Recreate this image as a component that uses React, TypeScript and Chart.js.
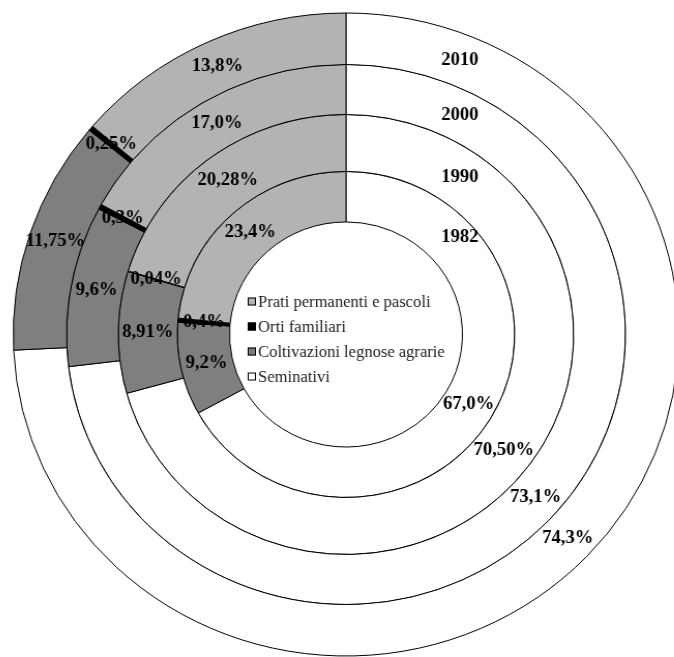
import { useEffect, useRef } from "react";
import { Chart, registerables } from "chart.js";

Chart.register(...registerables);

// ---- data ----
const years = ["2010", "2000", "1990", "1982"];
const categories = [
  "Seminativi",
  "Coltivazioni legnose agrarie",
  "Orti familiari",
  "Prati permanenti e pascoli",
];
const values2010 = [74.3, 11.75, 0.25, 13.8];
const values2000 = [73.1, 9.6, 0.3, 17.0];
const values1990 = [70.5, 8.91, 0.04, 20.28];
const values1982 = [67.0, 9.2, 0.4, 23.4];
const labels2010 = ["74,3%", "11,75%", "0,25%", "13,8%"];
const labels2000 = ["73,1%", "9,6%", "0,3%", "17,0%"];
const labels1990 = ["70,50%", "8,91%", "0,04%", "20,28%"];
const labels1982 = ["67,0%", "9,2%", "0,4%", "23,4%"];
const legendOrder = [3, 2, 1, 0];

// ---- style ----
const colors = ["#ffffff", "#7f7f7f", "#000000", "#b3b3b3"];
const ringWeights = [51.5, 50, 57, 50.5];
const yearShift = [0, 0, 0, 9];

const seriesValues = [values2010, values2000, values1990, values1982];
const seriesLabels = [labels2010, labels2000, labels1990, labels1982];

const labelPlugin = {
  id: "ringLabels",
  afterDatasetsDraw(chart: any) {
    const ctx = chart.ctx;
    ctx.save();
    ctx.fillStyle = "#000";
    ctx.textAlign = "center";
    ctx.textBaseline = "middle";
    ctx.font = "bold 18px 'Liberation Serif', 'DejaVu Serif', serif";
    chart.data.datasets.forEach((ds: any, di: number) => {
      const meta = chart.getDatasetMeta(di);
      meta.data.forEach((arc: any, i: number) => {
        const p = arc.getCenterPoint();
        ctx.fillText(ds.valueLabels[i], p.x, p.y);
      });
      const a0 = meta.data[0];
      const rmid = (a0.innerRadius + a0.outerRadius) / 2 + yearShift[di];
      const dx = 110;
      const dy = Math.sqrt(Math.max(rmid * rmid - dx * dx, 0));
      ctx.fillText(ds.label, a0.x + dx, a0.y - dy);
    });
    ctx.restore();
  },
  afterDraw(chart: any) {
    const ctx = chart.ctx;
    const a0 = chart.getDatasetMeta(0).data[0];
    const cx = a0.x;
    const cy = a0.y;
    ctx.save();
    ctx.font = "16px 'Liberation Serif', 'DejaVu Serif', serif";
    ctx.textAlign = "left";
    ctx.textBaseline = "middle";
    legendOrder.forEach((ci, row) => {
      const y = cy - 33 + row * 25;
      ctx.fillStyle = colors[ci];
      ctx.fillRect(cx - 95, y - 4, 8, 8);
      ctx.strokeStyle = "#000";
      ctx.lineWidth = 1;
      ctx.strokeRect(cx - 94.5, y - 3.5, 7, 7);
      ctx.fillStyle = "#222";
      ctx.fillText(categories[ci], cx - 85, y + 1);
    });
    ctx.restore();
  },
};

export default function App() {
  const ref = useRef<HTMLCanvasElement | null>(null);
  useEffect(() => {
    if (!ref.current) return;
    const chart = new Chart(ref.current, {
      type: "doughnut",
      data: {
        labels: categories,
        datasets: years.map((y, i) => ({
          label: y,
          data: seriesValues[i],
          valueLabels: seriesLabels[i],
          backgroundColor: colors,
          borderColor: "#000",
          borderWidth: 1,
          weight: ringWeights[i],
          hoverOffset: 0,
          offset: 0,
        })) as any,
      },
      options: {
        animation: false,
        responsive: true,
        maintainAspectRatio: false,
        events: [],
        cutout: "35%",
        radius: 321.5,
        layout: { padding: { left: 18, top: 12, right: 0, bottom: 0 } },
        plugins: {
          legend: { display: false },
          tooltip: { enabled: false },
        },
      } as any,
      plugins: [labelPlugin],
    });
    return () => chart.destroy();
  }, []);
  return (
    <div
      style={{
        position: "fixed",
        left: 0,
        top: 0,
        width: 674,
        height: 657,
        overflow: "hidden",
        background: "#fff",
      }}
    >
      <div
        style={{
          position: "absolute",
          left: 0,
          top: 0,
          width: 674,
          height: 657,
          transform: "scaleX(1.035)",
          transformOrigin: "346px 0",
        }}
      >
        <canvas ref={ref} style={{ display: "block" }} />
      </div>
    </div>
  );
}
